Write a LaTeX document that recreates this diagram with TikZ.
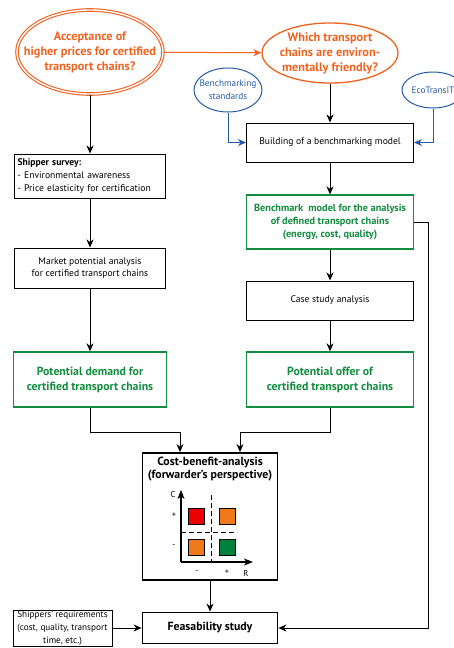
\documentclass[tikz,border=0pt]{standalone}
\usepackage{fontspec}
\setmainfont{PT Sans}
\usetikzlibrary{shapes.geometric, arrows.meta, positioning}
\definecolor{qorange}{RGB}{240,98,32}
\definecolor{rgreen}{RGB}{18,140,62}
\definecolor{sblue}{RGB}{35,90,168}
\definecolor{cred}{RGB}{236,0,0}
\definecolor{corange}{RGB}{240,122,26}
\definecolor{cgreen}{RGB}{0,128,60}
\tikzstyle{question} = [ellipse, draw=qorange, line width=1.3pt,
text=qorange, font=\fontsize{12.3}{15}\selectfont\bfseries,
align=center, inner ysep=0pt]
\tikzstyle{source} = [ellipse, draw=sblue, line width=1pt,
text=sblue, font=\fontsize{9.3}{12.5}\selectfont,
align=center, inner ysep=0pt]
\tikzstyle{process} = [rectangle, draw, line width=1pt,
font=\fontsize{9.6}{12.7}\selectfont, align=center, inner sep=2pt]
\tikzstyle{result} = [process, draw=rgreen, line width=1.3pt,
text=rgreen, font=\fontsize{11.8}{15}\selectfont\bfseries]
\tikzstyle{keybox} = [process, line width=1.8pt,
font=\fontsize{11.8}{13}\selectfont\bfseries]
\tikzstyle{cell} = [rectangle, draw, line width=0.8pt,
minimum size=16pt, inner sep=0pt]
\tikzstyle{arrow} = [line width=1pt, ->,
>={Stealth[length=8pt, width=7pt, inset=2.5pt]}]
\tikzstyle{axis} = [line width=1.1pt, ->,
>={Stealth[length=9pt, width=7pt, inset=2.5pt]}]

\begin{document}
\begin{tikzpicture}[x=1pt, y=-1pt]
    \useasboundingbox (0,0) rectangle (453,648);
    % questions and sources
    \node (accept) [question, double, double distance=1.4pt, line width=1.1pt,
        inner xsep=-15pt, minimum width=146pt, minimum height=84pt] at (90,52)
        {Acceptance of\\higher prices for certified\\transport chains?};
    \node (friendly) [question, inner xsep=-3pt,
        minimum width=136pt, minimum height=60pt] at (330,53)
        {Which transport\\chains are environ-\\mentally friendly?};
    \node (stds) [source, inner xsep=-7pt, minimum width=68pt, minimum height=44pt]
        at (228,90) {Benchmarking\\standards};
    \node (ecot) [source, inner xsep=-3pt, minimum width=62pt, minimum height=36pt]
        at (433,90) {EcoTransIT};

    % left column
    \node (survey) [process, text width=145pt, align=left, inner sep=3pt,
        minimum height=44pt] at (90,176)
        {\textbf{Shipper survey:}\\- Environmental awareness\\- Price elasticity for certification};
    \node (market) [process, minimum width=151pt, minimum height=40pt]
        at (90,268) {Market potential analysis\\for certified transport chains};
    \node (demand) [result, minimum width=153pt, minimum height=55pt]
        at (90,379.5) {Potential demand for\\certified transport chains};

    % right column
    \node (build) [process, minimum width=167pt, minimum height=39pt]
        at (330,142.5) {Building of a benchmarking model};
    \node (bmodel) [result, minimum width=167pt, minimum height=54pt,
        font=\fontsize{10.3}{12.7}\selectfont\bfseries] at (330,222)
        {Benchmark\ \ model for the analysis\\of defined transport chains\\(energy, cost, quality)};
    \node (case) [process, minimum width=167pt, minimum height=39pt]
        at (330,300.5) {Case study analysis};
    \node (offer) [result, minimum width=167pt, minimum height=55pt]
        at (330,379.5) {Potential offer of\\certified transport chains};

    % bottom
    \node (cba) [keybox, minimum width=135pt, minimum height=127pt]
        at (210,516.5) {};
    \node (cbatitle) [below=1pt of cba.north, font=\fontsize{11.8}{13}\selectfont\bfseries,
        align=center] {Cost-benefit-analysis\\(forwarder’s perspective)};
    \node (feas) [keybox, minimum width=135pt, minimum height=31pt]
        at (210,628) {Feasability study};
    \node (shipreq) [process, line width=0.8pt, inner sep=1pt,
        font=\fontsize{9.2}{12.8}\selectfont, minimum width=99pt] at (62.5,628)
        {Shippers’ requirements\\(cost, quality, transport\\time, etc.)};

    % cost-benefit chart
    \coordinate (origin) at (181,562);
    \draw [axis] (origin) -- ++(0,-72);
    \draw [axis] (origin) -- ++(72,0);
    \draw [line width=0.9pt, dash pattern=on 5pt off 3pt] (211,495) -- (211,562);
    \draw [line width=0.9pt, dash pattern=on 5pt off 3pt] (181,532) -- (237,532);
    \node (costhigh) [cell, fill=cred] at (196,516) {};
    \node (bothhigh) [cell, fill=corange] at (227,516) {};
    \node (bothlow) [cell, fill=corange] at (196,547.5) {};
    \node (revhigh) [cell, fill=cgreen] at (227,547.5) {};
    \begin{scope}[font=\fontsize{8.5}{10}\selectfont]
        \node (clabel) at (173,495) {C};
        \node (rlabel) at (246,573) {R};
        \node (cplus) at (174,515) {+};
        \node (cminus) at (174,546) {-};
        \node (rminus) at (197,572) {-};
        \node (rplus) at (227,572) {+};
    \end{scope}

    \draw [arrow, draw=qorange] (accept) -- (friendly);
    \draw [arrow] (accept) -- (survey);
    \draw [arrow] (survey) -- (market);
    \draw [arrow] (market) -- (demand);
    \draw [arrow] (friendly) -- (build);
    \draw [arrow, draw=sblue, line width=0.9pt] (stds) |- (build);
    \draw [arrow, draw=sblue, line width=0.9pt] (ecot) |- (build);
    \draw [arrow] (build) -- (bmodel);
    \draw [arrow] (bmodel) -- (case);
    \draw [arrow] (case) -- (offer);
    \draw [arrow] (demand.south) -- ++(0,25) -| ([xshift=-30pt]cba.north);
    \draw [arrow] (offer.south) -- ++(0,25) -| ([xshift=30pt]cba.north);
    \draw [arrow] (cba) -- (feas);
    \draw [arrow] (shipreq) -- (feas);
    \draw [arrow] (bmodel.east) -- ++(14,0) |- (feas.east);
\end{tikzpicture}
\end{document}
